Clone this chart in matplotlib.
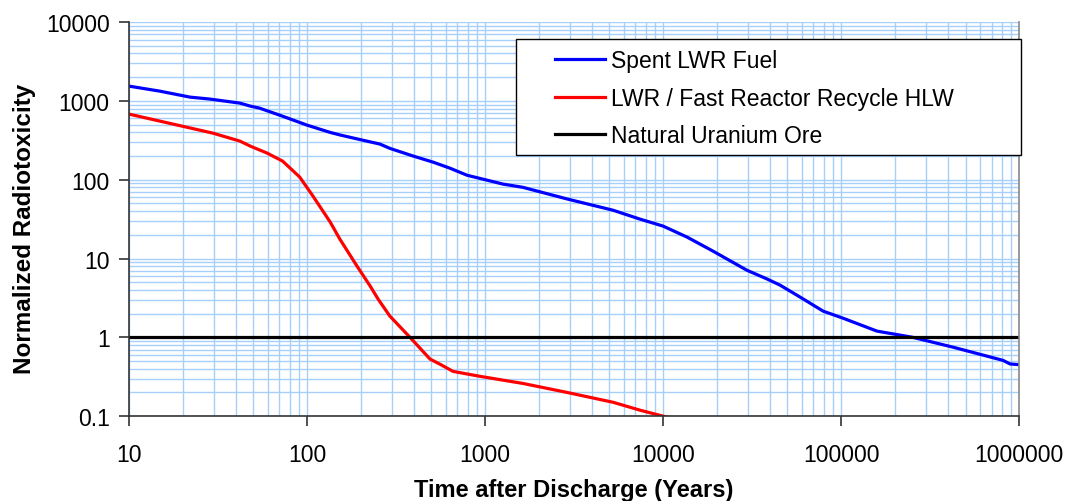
import matplotlib.pyplot as plt
from matplotlib.patches import Rectangle
from matplotlib.ticker import LogLocator, FuncFormatter, NullFormatter

# Spent LWR fuel
years_spent = [10, 14.9, 22, 28.5, 42, 48, 54, 70, 100, 134, 153, 175, 257, 292, 394, 511,
               636, 792, 1262, 1634, 2890, 5240, 7430, 10000, 13650, 19100, 29600, 38400,
               45400, 58900, 79300, 102600, 159000, 253000, 426000, 813000, 889000, 1000000]
tox_spent = [1540, 1330, 1117, 1055, 937, 859, 811, 661, 493, 400, 370, 345, 283, 250, 200, 167,
             140, 114, 88, 80, 57, 41, 31.6, 25.8, 18.7, 12.4, 7.1, 5.5,
             4.6, 3.24, 2.15, 1.75, 1.2, 1.0, 0.75, 0.51, 0.46, 0.45]

# LWR / fast reactor recycle HLW
years_hlw = [10, 29.6, 42, 48, 59.6, 73, 91, 108, 135, 153, 191, 226, 251, 292, 379, 491,
             558, 661, 938, 1634, 2890, 5240, 7430, 10000, 11500]
tox_hlw = [680, 390, 309, 267, 218, 172, 108, 62, 29, 17.6, 8.0, 4.5, 3.05, 1.86, 1.0, 0.53,
           0.457, 0.37, 0.32, 0.26, 0.20, 0.15, 0.119, 0.1, 0.093]

# natural uranium ore reference level
years_ore = [10, 1000000]
tox_ore = [1, 1]

plt.rcParams['font.family'] = ['Liberation Sans', 'DejaVu Sans']

fig = plt.figure(figsize=(10.66, 5.02), dpi=100)
ax = fig.add_axes([0.121, 0.169, 0.835, 0.785])

ax.plot(years_spent, tox_spent, color='#0000ff', lw=2.3, label='Spent LWR Fuel')
ax.plot(years_hlw, tox_hlw, color='#ff0000', lw=2.3, label='LWR / Fast Reactor Recycle HLW')
ax.plot(years_ore, tox_ore, color='black', lw=2.3, label='Natural Uranium Ore')

ax.set_xscale('log')
ax.set_yscale('log')
ax.set_xlim(10, 1e6)
ax.set_ylim(0.1, 10000)

fmt = FuncFormatter(lambda v, p: f'{v:.0f}' if v >= 1 else f'{v:g}')
for axis in (ax.xaxis, ax.yaxis):
    axis.set_major_locator(LogLocator(base=10, numticks=20))
    axis.set_minor_locator(LogLocator(base=10, subs=range(2, 10), numticks=20))
    axis.set_major_formatter(fmt)
    axis.set_minor_formatter(NullFormatter())

ax.grid(True, which='both', color='#a6d0fa', lw=1.0)
ax.set_axisbelow(True)
ax.tick_params(which='major', direction='out', length=7, width=1.2, color='#333333',
               labelsize=16.5, pad=7)
ax.tick_params(axis='x', which='major', pad=12)
ax.tick_params(which='minor', length=0)

ax.spines['top'].set_visible(False)
ax.spines['right'].set_color('#888888')
ax.spines['left'].set_color('#333333')
ax.spines['bottom'].set_color('#333333')
for s in ax.spines.values():
    s.set_linewidth(1.2)

ax.set_xlabel('Time after Discharge (Years)', fontsize=17, fontweight='bold', labelpad=9)
ax.set_ylabel('Normalized Radiotoxicity', fontsize=17.5, fontweight='bold')
ax.yaxis.set_label_coords(-0.104, 0.477)

# legend box is wider than its contents in the original, so draw the frame separately
frame = Rectangle((0.435, 0.662), 0.567, 0.295, transform=ax.transAxes, facecolor='white',
                  edgecolor='black', lw=1.0, zorder=4, clip_on=False)
ax.add_patch(frame)
leg = ax.legend(loc='upper left', bbox_to_anchor=(0.479, 0.932), fontsize=16.5,
                frameon=False, handlelength=2.18, handletextpad=0.26, borderpad=0,
                labelspacing=0.64, borderaxespad=0)
leg.set_zorder(5)

fig.savefig('out.png', dpi=100)
